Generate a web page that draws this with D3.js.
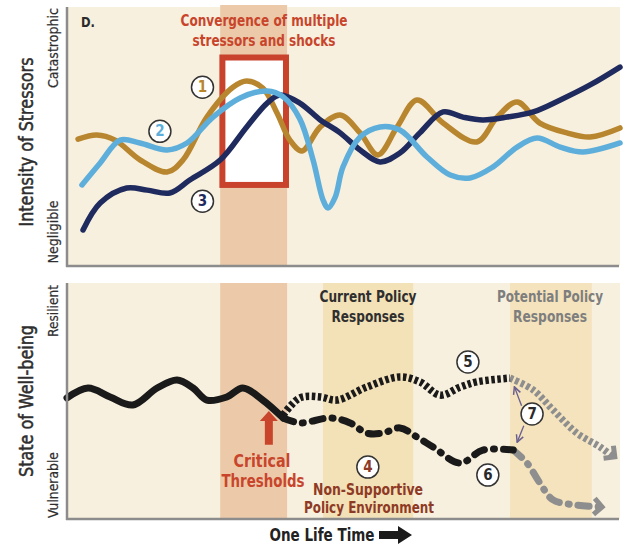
<!DOCTYPE html>
<html>
<head>
<meta charset="utf-8">
<script src="https://cdn.jsdelivr.net/npm/d3@7"></script>
<style>
  body { margin: 0; background: #fff; }
  text { font-family: "Liberation Sans Narrow", "DejaVu Sans Condensed", sans-serif; }
</style>
</head>
<body>
<svg id="chart" width="623" height="546"></svg>
<script>
// time along one life time, 0..100 ; intensity / well-being 0..100
const stressor1 = [[2,49],[5.4,50.6],[8.7,48.6],[13.2,41],[18.1,36.3],[21,41],[25.3,57.5],[30,69],[32.5,71.4],[35.4,68.7],[38,59],[40.3,48.6],[42.5,44.4],[45.8,53.7],[49.4,58.3],[53,51.4],[56.2,42.9],[59.7,53.7],[63.3,64.1],[68,55.2],[74.1,47.9],[77.8,57.5],[81.4,63.3],[85.5,55.2],[90.4,51.4],[94.6,49.8],[100,53.3]];
const stressor2 = [[2.7,31.3],[6,39.8],[9.6,48.6],[13.2,47.5],[18.1,44.8],[21.7,47.5],[26.4,57.5],[31.3,64.9],[36.2,67.6],[39.1,65.3],[42.1,56.8],[44.5,40.9],[46.3,25.5],[47.2,22.4],[48.5,26.6],[49.9,38.2],[53,49.8],[56.6,53.7],[60.2,52.5],[65.1,42.1],[69.3,35.1],[72.9,34],[77,38.2],[81.4,45.9],[85,49.4],[89.2,45.9],[93.3,44],[100,47.5]];
const stressor3 = [[2.9,13.9],[6,24.3],[10.8,30.1],[14.5,29.3],[18.6,28.2],[22.2,33.2],[27.7,40.9],[32.5,53.7],[36.2,62.9],[38.5,66],[42.1,62.9],[45.8,56.4],[49.4,51.4],[53,44.8],[56.6,40.2],[60.2,43.6],[63.8,51.4],[68,59.5],[71.6,57.5],[75.2,56.4],[79.6,57.5],[84.3,59.5],[89.2,64.1],[94.6,69.9],[100,76.8]];

const wellbeingPast = [[0,51.3],[3.8,55.5],[7.8,51.7],[11.9,48.3],[16.3,55.5],[19.9,58.9],[22.8,55.5],[25.3,50.4],[28.9,51.7],[31.8,55.5],[35.4,50.4],[39.1,42.8]];
const supportive = [[39.1,44.1],[42.1,51.3],[45.8,51.7],[48.8,50.4],[54.2,55.9],[60.2,60.2],[63.8,58.1],[67.5,52.5],[71.1,55.9],[74.1,58.1],[80.1,59.7]];
const supportiveFuture = [[80.1,59.7],[84.3,54.7],[87.9,46.2],[92.2,36.4],[96.4,30.5],[98.7,26.3]];
const nonSupportive = [[39.1,42.8],[42.1,40.7],[47.6,42.8],[51.2,40.7],[54.2,36.4],[57.1,36.4],[60.2,38.6],[63.3,34.7],[66.2,30.5],[71.1,23.7],[75.2,29.2],[80.7,29.2]];
const nonSupportiveFuture = [[80.7,29.2],[83.2,23.7],[85.5,15.3],[87.9,8.1],[92.2,5.9],[96.4,5.1]];

const convergenceBand = [27.7, 39.8];
const convergenceBox = { x0: 28.1, x1: 39.6, y0: 31.3, y1: 80.5 };
const currentPolicyBand = [46.3, 62.6];
const potentialPolicyBand = [80.1, 94.9];

const svg = d3.select("#chart");

const x = d3.scaleLinear().domain([0, 100]).range([67, 620]);
const yTop = d3.scaleLinear().domain([0, 100]).range([266, 7]);
const yBot = d3.scaleLinear().domain([0, 100]).range([519, 283]);

const cream = "#f8f0de";
const gold = "#b8862e", blue = "#5eaedb", navy = "#1f2a5e";
const red = "#c8452c", darkRed = "#8e3a24";

// text squeezed to the widths of the condensed face used in the original
function label(cx, y, txt, width, size, color, weight) {
    return svg.append("text").attr("x", cx).attr("y", y).attr("text-anchor", "middle")
        .attr("font-size", size).attr("font-weight", weight || "bold").attr("fill", color)
        .attr("textLength", width).attr("lengthAdjust", "spacingAndGlyphs").text(txt);
}

// ---------- top panel ----------
svg.append("rect").attr("x", x(0)).attr("y", yTop(100))
    .attr("width", x(100) - x(0)).attr("height", yTop(0) - yTop(100)).attr("fill", cream);
svg.append("rect").attr("x", x(convergenceBand[0])).attr("y", 5)
    .attr("width", x(convergenceBand[1]) - x(convergenceBand[0])).attr("height", yTop(0) - 5)
    .attr("fill", "#eccaa9");
svg.append("rect").attr("x", x(convergenceBox.x0)).attr("y", yTop(convergenceBox.y1))
    .attr("width", x(convergenceBox.x1) - x(convergenceBox.x0))
    .attr("height", yTop(convergenceBox.y0) - yTop(convergenceBox.y1))
    .attr("fill", "#fff").attr("stroke", "#c8422c").attr("stroke-width", 6);

const lineTop = d3.line().x(d => x(d[0])).y(d => yTop(d[1])).curve(d3.curveCatmullRom.alpha(0.5));
[[stressor1, gold], [stressor3, navy], [stressor2, blue]].forEach(([data, c]) => {
    svg.append("path").attr("d", lineTop(data)).attr("fill", "none")
        .attr("stroke", c).attr("stroke-width", 5.5).attr("stroke-linecap", "round");
});

// axes
const axisColor = "#8c8c8c";
svg.append("line").attr("x1", x(0)).attr("x2", x(0)).attr("y1", yTop(100)).attr("y2", yTop(0) + 1)
    .attr("stroke", axisColor).attr("stroke-width", 2.5);
svg.append("line").attr("x1", x(0) - 1).attr("x2", x(100) - 1).attr("y1", yTop(0)).attr("y2", yTop(0))
    .attr("stroke", axisColor).attr("stroke-width", 2.5);

label(88, 27, "D.", 14, 14, "#2a2a2a");

label(264, 26, "Convergence of multiple", 167, 16, red);
label(264, 46, "stressors and shocks", 143, 16, red);

function badge(cx, cy, txt, color) {
    svg.append("circle").attr("cx", cx).attr("cy", cy).attr("r", 11)
        .attr("fill", "#fff").attr("stroke", "#333").attr("stroke-width", 1.5);
    svg.append("text").attr("x", cx).attr("y", cy + 5).attr("text-anchor", "middle")
        .attr("font-weight", "bold").attr("font-size", 15).attr("fill", color).text(txt);
}
badge(x(24.5), yTop(69), "1", gold);
badge(x(16.8), yTop(52), "2", blue);
badge(x(24.5), yTop(25), "3", navy);

function vlabel(cx, cy, txt, width, size, thick) {
    svg.append("text").attr("transform", `translate(${cx},${cy}) rotate(-90)`)
        .attr("text-anchor", "middle").attr("font-size", size)
        .attr("textLength", width).attr("lengthAdjust", "spacingAndGlyphs")
        .attr("fill", "#2e2e2e").attr("stroke", "#2e2e2e").attr("stroke-width", thick)
        .text(txt);
}
vlabel(33, 142, "Intensity of Stressors", 169, 20, 0.5);
vlabel(58, 48, "Catastrophic", 80, 14, 0.2);
vlabel(58, 232, "Negligible", 63, 14, 0.2);

// ---------- bottom panel ----------
svg.append("rect").attr("x", x(0)).attr("y", yBot(100))
    .attr("width", x(100) - x(0)).attr("height", yBot(0) - yBot(100)).attr("fill", cream);
svg.append("rect").attr("x", x(convergenceBand[0])).attr("y", yBot(100))
    .attr("width", x(convergenceBand[1]) - x(convergenceBand[0])).attr("height", yBot(0) - yBot(100))
    .attr("fill", "#eccaa9");
svg.append("rect").attr("x", x(currentPolicyBand[0])).attr("y", yBot(100))
    .attr("width", x(currentPolicyBand[1]) - x(currentPolicyBand[0])).attr("height", yBot(0) - yBot(100))
    .attr("fill", "#f3e1b8");
svg.append("rect").attr("x", x(potentialPolicyBand[0])).attr("y", yBot(100))
    .attr("width", x(potentialPolicyBand[1]) - x(potentialPolicyBand[0])).attr("height", yBot(0) - yBot(100))
    .attr("fill", "#f4e3bd");

const lineBot = d3.line().x(d => x(d[0])).y(d => yBot(d[1])).curve(d3.curveCatmullRom.alpha(0.5));
const grey = "#8e8e8e";

svg.append("path").attr("d", lineBot(supportiveFuture)).attr("fill", "none")
    .attr("stroke", grey).attr("stroke-width", 7).attr("stroke-dasharray", "3.5,2.5");
svg.append("path").attr("d", lineBot(nonSupportiveFuture)).attr("fill", "none")
    .attr("stroke", grey).attr("stroke-width", 7).attr("stroke-linecap", "round")
    .attr("stroke-dasharray", "11,9,1,9");
svg.append("path").attr("d", lineBot(wellbeingPast)).attr("fill", "none")
    .attr("stroke", "#1a1a1a").attr("stroke-width", 7).attr("stroke-linecap", "round");
svg.append("path").attr("d", lineBot(supportive)).attr("fill", "none")
    .attr("stroke", "#1a1a1a").attr("stroke-width", 7.5).attr("stroke-dasharray", "3.5,2.5");
svg.append("path").attr("d", lineBot(nonSupportive)).attr("fill", "none")
    .attr("stroke", "#1a1a1a").attr("stroke-width", 7).attr("stroke-linecap", "round")
    .attr("stroke-dasharray", "11,9,1,9");

// chevron heads at the end of the projected paths
function chevron(data, color) {
    const a = data[data.length - 2], b = data[data.length - 1];
    const ang = Math.atan2(yBot(b[1]) - yBot(a[1]), x(b[0]) - x(a[0])) * 180 / Math.PI;
    svg.append("path").attr("d", "M-8,-8 L0,0 L-8,8")
        .attr("transform", `translate(${x(b[0]) + 2},${yBot(b[1])}) rotate(${ang})`)
        .attr("fill", "none").attr("stroke", color).attr("stroke-width", 5)
        .attr("stroke-linejoin", "miter");
}
chevron(supportiveFuture, grey);
chevron(nonSupportiveFuture, grey);

// axes
svg.append("line").attr("x1", x(0)).attr("x2", x(0)).attr("y1", yBot(100)).attr("y2", yBot(0) + 1)
    .attr("stroke", axisColor).attr("stroke-width", 2.5);
svg.append("line").attr("x1", x(0) - 1).attr("x2", x(100) - 1).attr("y1", yBot(0)).attr("y2", yBot(0))
    .attr("stroke", axisColor).attr("stroke-width", 2.5);

// range arrow (7)
const defs = svg.append("defs");
defs.append("marker").attr("id", "ah").attr("viewBox", "0 0 10 10").attr("refX", 9).attr("refY", 5)
    .attr("markerWidth", 7).attr("markerHeight", 7).attr("orient", "auto")
    .append("path").attr("d", "M1,1 L9,5 L1,9").attr("fill", "none").attr("stroke", "#6a5e8e").attr("stroke-width", 1.6);
svg.append("line").attr("x1", x(82.2)).attr("y1", yBot(48)).attr("x2", x(80.9)).attr("y2", yBot(56))
    .attr("stroke", "#6a5e8e").attr("stroke-width", 1.3).attr("marker-end", "url(#ah)");
svg.append("line").attr("x1", x(82.6)).attr("y1", yBot(39.5)).attr("x2", x(81.4)).attr("y2", yBot(32.5))
    .attr("stroke", "#6a5e8e").attr("stroke-width", 1.3).attr("marker-end", "url(#ah)");

badge(x(72.5), yBot(66.5), "5", "#2a2a2a");
badge(x(84.1), yBot(44.5), "7", "#2a2a2a");
badge(x(76.1), yBot(18.6), "6", "#2a2a2a");
badge(x(54.4), yBot(22), "4", darkRed);

// critical thresholds arrow
const ax = x(36.5);
svg.append("path")
    .attr("d", `M${ax - 9},${yBot(41.5)} L${ax},${yBot(41.5) - 10} L${ax + 9},${yBot(41.5)} L${ax + 4},${yBot(41.5)} L${ax + 4},${yBot(31.5)} L${ax - 4},${yBot(31.5)} L${ax - 4},${yBot(41.5)} Z`)
    .attr("fill", red);

label(262, 467, "Critical", 57, 18, red);
label(263, 487, "Thresholds", 83, 18, red);

label(368, 495, "Non-Supportive", 110, 16, darkRed);
label(369, 513, "Policy Environment", 130, 16, darkRed);

label(368, 302, "Current Policy", 97, 16, "#2f2f2f");
label(368, 322, "Responses", 73, 16, "#2f2f2f");

label(550, 302, "Potential Policy", 106, 16, "#7e7e7e");
label(550, 322, "Responses", 74, 16, "#7e7e7e");

vlabel(33, 401, "State of Well-being", 152, 20, 0.5);
vlabel(58, 311, "Resilient", 52, 14, 0.2);
vlabel(58, 485, "Vulnerable", 66, 14, 0.2);

label(322, 541, "One Life Time", 105, 18, "#222");
svg.append("path").attr("d", "M379,531 L398,531 L398,526 L412,535 L398,544 L398,539 L379,539 Z")
    .attr("fill", "#1a1a1a");
</script>
</body>
</html>
